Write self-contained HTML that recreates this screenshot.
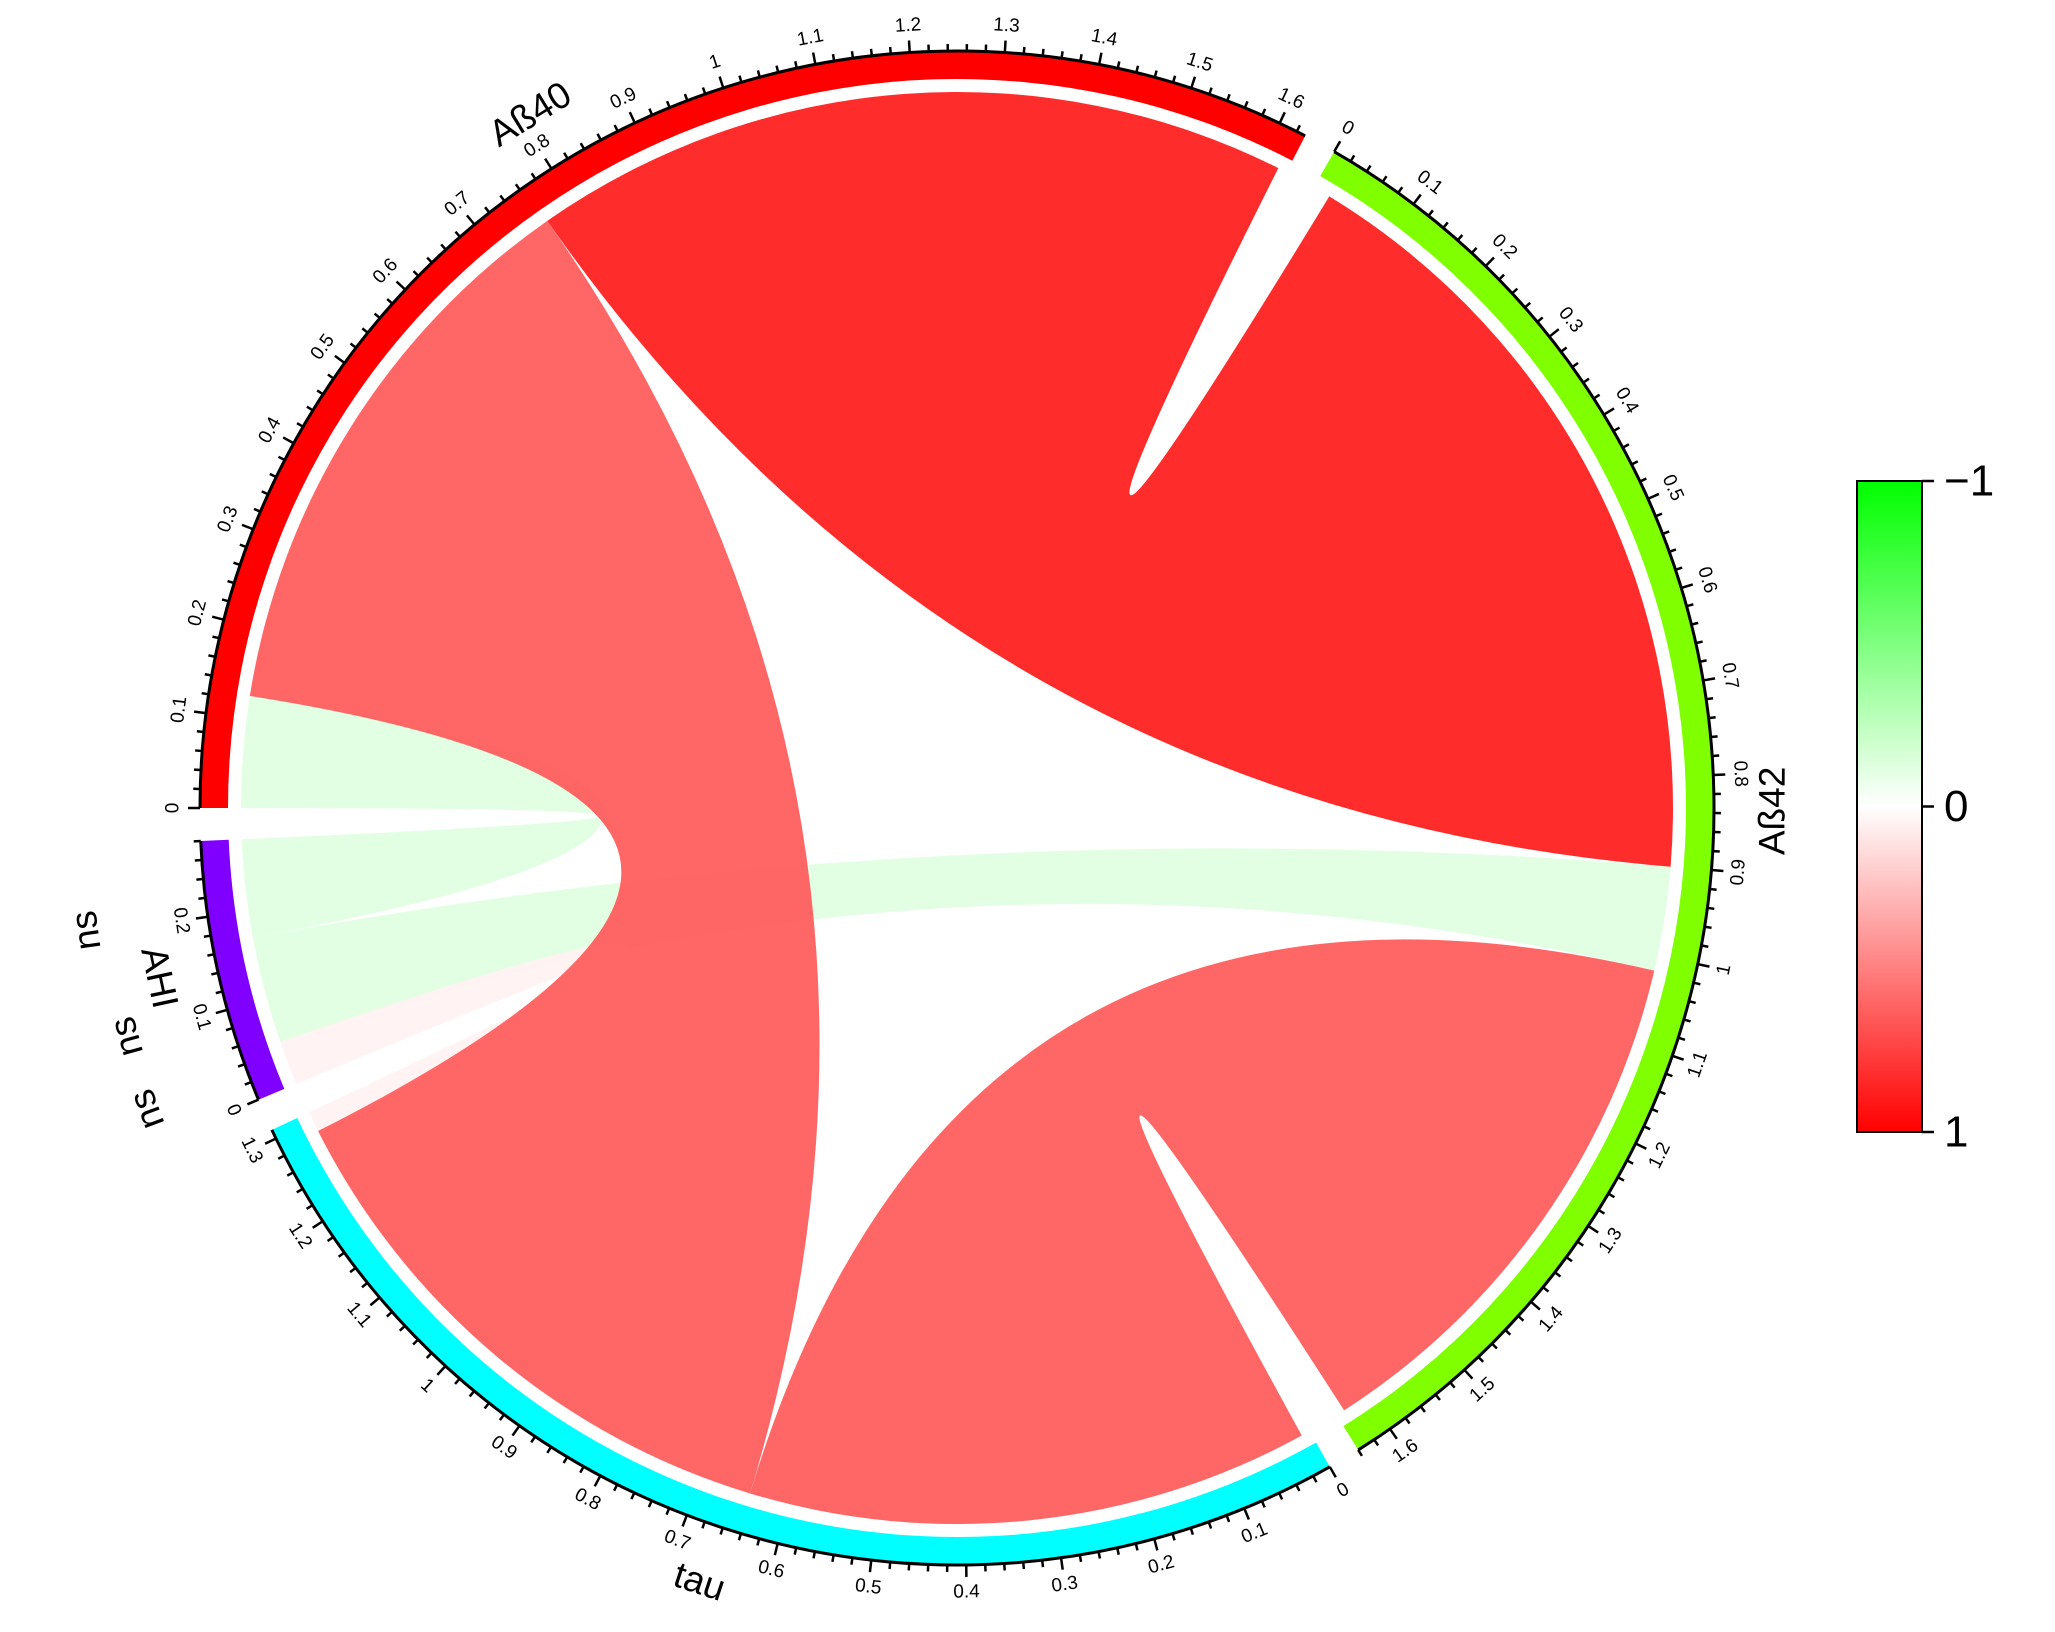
<!DOCTYPE html>
<html><head><meta charset="utf-8"><style>
html,body{margin:0;padding:0;background:#fff;}
svg{display:block;font-family:"Liberation Sans",sans-serif;}
</style></head><body>
<svg id="chart" width="2055" height="1632" viewBox="0 0 2055 1632" xmlns="http://www.w3.org/2000/svg">
<defs>
<linearGradient id="cbgrad" x1="0" y1="0" x2="0" y2="1">
<stop offset="0" stop-color="#00ff00"/><stop offset="0.5" stop-color="#ffffff"/><stop offset="1" stop-color="#ff0000"/>
</linearGradient>
</defs>
<g id="chords"></g>
<g id="tracks"></g>
<g id="labels"></g>
<g id="colorbar">
<rect x="1857" y="481" width="65" height="651" fill="url(#cbgrad)" stroke="#000" stroke-width="2"/>
</g>
</svg>
<script>
const sectorNames = ["Aß40","Aß42","tau","AHI"];
const sectorTotals = [1.63,1.64,1.31,0.28];
const sectorColors = ["#ff0000","#7fff00","#00ffff","#8000ff"];
const chordFrom = ["AHI","AHI","tau","Aß40","Aß42","Aß40"];
const fromStart = [0.17,0.05,1.287,0.125,1.017,0.765];
const fromEnd = [0.28,0.17,1.31,0.765,1.63,1.62];
const chordTo = ["Aß40","Aß42","AHI","tau","tau","Aß42"];
const toStart = [0.0,0.90,0.0,0.643,0.01,0.02];
const toEnd = [0.125,1.017,0.05,1.287,0.643,0.90];
const chordCorr = [-0.12,-0.12,0.05,0.63,0.63,0.87];
const legendTicks = [-1,0,1];
const legendTickLabels = ["\u22121","0","1"];
const nsLabels = ["ns","ns","ns"];

const NS="http://www.w3.org/2000/svg";
const cx=957, cy=808, Ro=757, Ri=729, Rc=716, gap=2.5;
const k=(360-gap*sectorNames.length)/sectorTotals.reduce((a,b)=>a+b,0);
const starts={}; let a=180;
sectorNames.forEach((n,i)=>{starts[n]=a; a-=sectorTotals[i]*k+gap;});
function ang(s,v){return starts[s]-v*k;}
function pt(th,r){const t=th*Math.PI/180;return [cx+r*Math.cos(t), cy-r*Math.sin(t)];}
function el(tag,attrs,parent){const e=document.createElementNS(NS,tag);for(const q in attrs)e.setAttribute(q,attrs[q]);parent.appendChild(e);return e;}
function arcD(t1,t2,r){const p=pt(t2,r);const la=(t1-t2)>180?1:0;return `A${r},${r} 0 ${la} 1 ${p[0].toFixed(2)},${p[1].toFixed(2)}`;}
function corrColor(c){
  if(c>=0){const g=Math.round(255*(1-c));return `rgb(255,${g},${g})`;}
  const v=Math.round(255*(1+c));return `rgb(${v},255,${v})`;
}
const chordsG=document.getElementById('chords');
for(let i=0;i<chordFrom.length;i++){
  const a1=ang(chordFrom[i],fromStart[i]), a2=ang(chordFrom[i],fromEnd[i]);
  const b1=ang(chordTo[i],toStart[i]), b2=ang(chordTo[i],toEnd[i]);
  const p1=pt(a1,Rc), q1=pt(b1,Rc);
  const d=`M${p1[0]},${p1[1]} ${arcD(a1,a2,Rc)} Q${cx},${cy} ${q1[0]},${q1[1]} ${arcD(b1,b2,Rc)} Q${cx},${cy} ${p1[0]},${p1[1]}Z`;
  const p=el('path',{d:d,fill:corrColor(chordCorr[i]),'fill-opacity':chordCorr[i]<0?0.9:0.95},chordsG);
  
  
}
const tracksG=document.getElementById('tracks');
const labelsG=document.getElementById('labels');
sectorNames.forEach((n,i)=>{
  const t1=starts[n], t2=ang(n,sectorTotals[i]);
  const o1=pt(t1,Ro), i2=pt(t2,Ri);
  const d=`M${o1[0]},${o1[1]} ${arcD(t1,t2,Ro)} L${i2[0]},${i2[1]} A${Ri},${Ri} 0 ${(t1-t2)>180?1:0} 0 ${pt(t1,Ri).join(',')} Z`;
  const tr=el('path',{d:d,fill:sectorColors[i]},tracksG);
  
  
  const ax=el('path',{d:`M${o1[0]},${o1[1]} ${arcD(t1,t2,Ro)}`,fill:'none',stroke:'#000','stroke-width':3},tracksG);
  
  
  const nT=Math.floor(sectorTotals[i]/0.02+1e-6);
  for(let j=0;j<=nT;j++){
    const v=j*0.02, th=ang(n,v), major=(j%5===0);
    const p0=pt(th,Ro), p1=pt(th,Ro+(major?12:7));
    const tk=el('line',{x1:p0[0],y1:p0[1],x2:p1[0],y2:p1[1],stroke:'#000','stroke-width':2.5},tracksG);
    
    
    if(major){
      const lp=pt(th,Ro+27);
      let rot=90-th; if(Math.sin(th*Math.PI/180)<-0.0001) rot+=180;
      const lbl=Math.round(v*10)/10;
      const tx=el('text',{x:lp[0],y:lp[1],'font-size':19,'text-anchor':'middle','dominant-baseline':'central',transform:`rotate(${rot} ${lp[0]} ${lp[1]})`},labelsG);
      tx.textContent=String(lbl);
      
      
    }
  }
});
const nameAng=[121.6,-0.2,-108.4,192];
sectorNames.forEach((n,i)=>{
  const th=nameAng[i]; const lp=pt(th,815);
  let rot=90-th; if(Math.sin(th*Math.PI/180)<-0.0001) rot+=180;
  const tx=el('text',{x:lp[0],y:lp[1],'font-size':37,'text-anchor':'middle','dominant-baseline':'central',transform:`rotate(${rot} ${lp[0]} ${lp[1]})`},labelsG);
  tx.textContent=n;
  
  
});
const nsAng=[188,195.4,200.4], nsR=[880,862,865];
nsLabels.forEach((s,i)=>{
  const lp=pt(nsAng[i],nsR[i]); const rot=90-nsAng[i];
  const tx=el('text',{x:lp[0],y:lp[1],'font-size':37,'text-anchor':'middle','dominant-baseline':'central',transform:`rotate(${rot} ${lp[0]} ${lp[1]})`},labelsG);
  tx.textContent=s;
  
  
});
const cb=document.getElementById('colorbar');
const cbTop=481, cbBot=1132;
function cbY(v){return cbTop+(v+1)/2*(cbBot-cbTop);}
legendTicks.forEach((v,i)=>{
  const y=cbY(v);
  const l=el('line',{x1:1922,y1:y,x2:1934,y2:y,stroke:'#000','stroke-width':2.5},cb);
  
  
  const t=el('text',{x:1944,y:y,'font-size':44,'dominant-baseline':'central'},cb);
  t.textContent=legendTickLabels[i];
  
  
});
</script>
</body></html>
